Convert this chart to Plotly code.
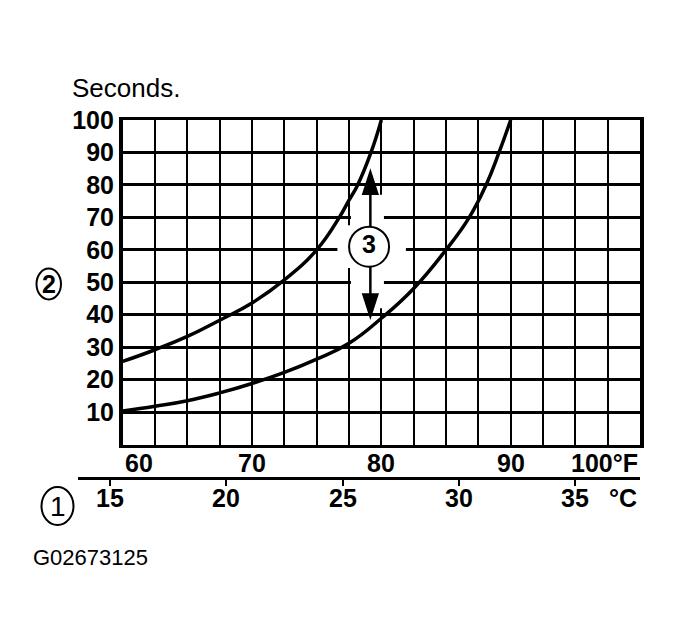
import plotly.graph_objects as go

# Time in seconds against ambient temperature (deg F), two limit curves
upper_temp_f = [60, 62.5, 65, 67.5, 70, 72.5, 75, 76.75, 77.5, 78.17, 79.2, 80]
upper_seconds = [25.6, 29.2, 33.3, 38.3, 43.6, 50.7, 60, 70, 75.3, 80, 90, 100]

lower_temp_f = [60, 62.5, 65, 67.5, 70, 72.5, 75, 77.5, 80, 82.5, 85, 86.8, 88.1, 89.1, 90]
lower_seconds = [10.3, 11.8, 13.5, 15.9, 18.8, 22.2, 26.3, 31.2, 38.9, 48.1, 60, 70, 80, 90, 100]

seconds_ticks = [10, 20, 30, 40, 50, 60, 70, 80, 90, 100]
f_label_values = [60, 70, 80, 90, 100]
f_labels = ["60", "70", "80", "90", "100°F"]
c_ticks = [15, 20, 25, 30, 35]
c_labels = ["15", "20", "25", "30", "35"]

# page geometry (pixels, as seen in the browser window)
W, H = 679, 644
PAGE_OFFSET = 8  # body margin of the html page
L, R, T, B = 78, 39, 120, 167
F_MIN, F_MAX = 60, 100
X_DOMAIN_START = (122.7 - L) / (W - L - R)
Y_DOMAIN_START = (477 - 444.5) / (H - T - B)

FONT = "Liberation Sans, Arial, sans-serif"
BOLD = dict(family=FONT, size=25, color="black", weight="bold")


def px_x(px):
    return (px - L) / (W - L - R)


def px_y(py):
    return (H - B - py) / (H - T - B)


# celsius scale shares the pixel scale of the fahrenheit axis, but runs further left
f_left = F_MIN - X_DOMAIN_START * (F_MAX - F_MIN) / (1 - X_DOMAIN_START)
c_range = [(f_left - 32) / 1.8, (F_MAX - 32) / 1.8]

fig = go.Figure()

for xs, ys in [(upper_temp_f, upper_seconds), (lower_temp_f, lower_seconds)]:
    fig.add_trace(
        go.Scatter(
            x=xs,
            y=ys,
            mode="lines",
            line=dict(color="black", width=3.5, shape="spline", smoothing=1.3),
            hoverinfo="skip",
        )
    )

# callout "3": circle with arrows up and down
CALLOUT_F = 79.15
fig.add_trace(
    go.Scatter(
        x=[CALLOUT_F, CALLOUT_F, None, CALLOUT_F, CALLOUT_F],
        y=[67.1, 80, None, 54.8, 44],
        mode="lines",
        line=dict(color="black", width=2.5),
        hoverinfo="skip",
    )
)
fig.add_trace(
    go.Scatter(
        x=[CALLOUT_F, CALLOUT_F],
        y=[85.1, 38.4],
        mode="markers",
        marker=dict(symbol="arrow", size=28, angle=[0, 180], color="black"),
        hoverinfo="skip",
    )
)
fig.add_trace(
    go.Scatter(
        x=[79.05],
        y=[60.95],
        mode="markers+text",
        text=["3"],
        textposition="middle center",
        textfont=BOLD,
        marker=dict(size=40, color="white", line=dict(color="black", width=2)),
        hoverinfo="skip",
    )
)

# dummy trace so the celsius axis gets drawn
fig.add_trace(
    go.Scatter(
        x=c_ticks,
        y=[0] * len(c_ticks),
        xaxis="x2",
        yaxis="y2",
        mode="markers",
        marker=dict(opacity=0),
        hoverinfo="skip",
    )
)

# white knock-outs in the grid round the callout
fig.add_shape(type="rect", xref="x", yref="y", x0=76.6, x1=81.9, y0=54.4, y1=67.6,
              fillcolor="white", line_width=0, layer="between")
fig.add_shape(type="rect", xref="x", yref="y", x0=77.65, x1=80.2, y0=42, y1=77,
              fillcolor="white", line_width=0, layer="between")

# circled labels 2 and 1
fig.add_shape(type="circle", xref="paper", yref="paper",
              x0=px_x(36.5), x1=px_x(61), y0=px_y(299.5), y1=px_y(268.5),
              line=dict(color="black", width=2))
fig.add_shape(type="circle", xref="paper", yref="paper",
              x0=px_x(41.5), x1=px_x(73.5), y0=px_y(525), y1=px_y(487),
              line=dict(color="black", width=2))

annotations = [
    dict(text="2", x=px_x(48.7), y=px_y(284), font=BOLD),
    dict(text="1", x=px_x(57.5), y=px_y(506), font=dict(family=FONT, size=28, color="black")),
    dict(text="Seconds.", x=px_x(70), y=px_y(87.5), xanchor="left",
         font=dict(family=FONT, size=26, color="black")),
    dict(text="G02673125", x=px_x(31), y=px_y(557.5), xanchor="left",
         font=dict(family=FONT, size=22, color="black")),
    dict(text="°C", x=px_x(639), y=px_y(498), xanchor="right", font=BOLD),
]
for i, (val, lab) in enumerate(zip(f_label_values, f_labels)):
    anchor = "left" if i == 0 else ("right" if i == len(f_labels) - 1 else "center")
    annotations.append(
        dict(text=lab, x=val, xref="x", y=px_y(462.5), xanchor=anchor, font=BOLD)
    )
for val, lab in zip(c_ticks, c_labels):
    annotations.append(dict(text=lab, x=val, xref="x2", y=px_y(498), font=BOLD))

for a in annotations:
    a.setdefault("xref", "paper")
    a.setdefault("yref", "paper")
    a.setdefault("yanchor", "middle")
    a.setdefault("xanchor", "center")
    a["showarrow"] = False

fig.update_layout(
    width=W - PAGE_OFFSET,
    height=H - PAGE_OFFSET,
    margin=dict(l=L - PAGE_OFFSET, r=R, t=T - PAGE_OFFSET, b=B),
    paper_bgcolor="white",
    plot_bgcolor="white",
    template="none",
    showlegend=False,
    annotations=annotations,
    xaxis=dict(
        domain=[X_DOMAIN_START, 1],
        anchor="y",
        range=[F_MIN, F_MAX],
        tick0=F_MIN,
        dtick=2.5,
        showticklabels=False,
        ticks="",
        showgrid=True,
        gridcolor="black",
        gridwidth=2,
        zeroline=False,
        showline=True,
        linecolor="black",
        linewidth=3,
        mirror=True,
    ),
    yaxis=dict(
        domain=[Y_DOMAIN_START, 1],
        anchor="x",
        range=[0, 100],
        tickvals=seconds_ticks,
        tickfont=BOLD,
        ticks="",
        showgrid=True,
        gridcolor="black",
        gridwidth=2.5,
        zeroline=False,
        showline=True,
        linecolor="black",
        linewidth=3.5,
        mirror=True,
    ),
    xaxis2=dict(
        domain=[0, 1],
        anchor="y2",
        range=c_range,
        tickvals=c_ticks,
        showticklabels=False,
        ticks="outside",
        ticklen=6,
        tickwidth=2,
        tickcolor="black",
        showgrid=False,
        zeroline=False,
        showline=True,
        linecolor="black",
        linewidth=3,
    ),
    yaxis2=dict(domain=[0, 0.02], anchor="x2", range=[0, 1], visible=False),
)

fig.write_html("out.html")
